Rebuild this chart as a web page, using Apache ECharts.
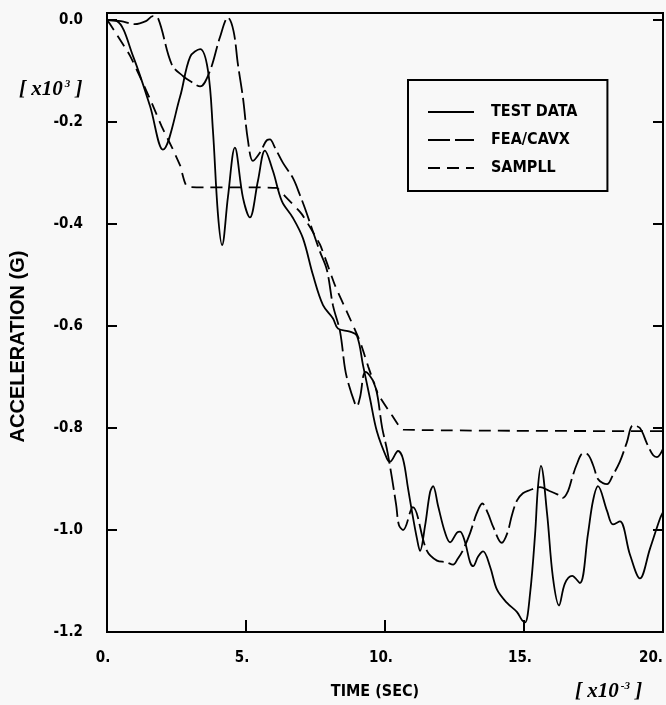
<!DOCTYPE html>
<html>
<head>
<meta charset="utf-8">
<script src="https://cdn.jsdelivr.net/npm/echarts@6/dist/echarts.min.js"></script>
<style>
html,body{margin:0;padding:0;background:#f8f8f8;}
#c{width:666px;height:705px;}
</style>
</head>
<body>
<div id="c"></div>
<script>
// ---- data (time in 1e-3 s, acceleration in 1e3 G) ----
const seriesNames = ['TEST DATA', 'FEA/CAVX', 'SAMPLL'];
const xTicks = [0, 5, 10, 15, 20];
const yTicks = [-1.2, -1.0, -0.8, -0.6, -0.4, -0.2, 0.0];

const testT = [0,0.36,0.94,1.55,2.01,2.63,2.99,3.35,3.63,3.81,3.99,4.14,4.35,4.60,4.89,5.14,5.43,5.68,5.97,6.29,6.69,7.05,7.41,7.77,8.13,8.31,8.74,8.99,9.21,9.46,9.71,10.07,10.18,10.47,10.65,10.83,10.97,11.15,11.26,11.44,11.62,11.73,11.91,12.16,12.34,12.59,12.70,12.88,13.06,13.17,13.35,13.53,13.78,14.03,14.39,14.75,14.93,15.04,15.22,15.40,15.50,15.61,15.83,16.04,16.26,16.47,16.73,17.01,17.30,17.48,17.66,17.99,18.20,18.45,18.81,19.17,19.53,19.89,20.0];
const testV = [0,-0.002,-0.071,-0.169,-0.254,-0.150,-0.072,-0.057,-0.098,-0.216,-0.380,-0.441,-0.347,-0.250,-0.348,-0.387,-0.315,-0.256,-0.296,-0.355,-0.388,-0.428,-0.500,-0.559,-0.585,-0.605,-0.611,-0.619,-0.677,-0.742,-0.807,-0.860,-0.866,-0.845,-0.861,-0.919,-0.964,-1.017,-1.041,-0.992,-0.926,-0.914,-0.953,-1.005,-1.024,-1.005,-1.003,-1.024,-1.063,-1.071,-1.052,-1.042,-1.072,-1.117,-1.143,-1.161,-1.177,-1.181,-1.124,-1.007,-0.917,-0.874,-0.968,-1.093,-1.148,-1.105,-1.090,-1.104,-1.008,-0.943,-0.914,-0.963,-0.989,-0.983,-1.048,-1.095,-1.037,-0.978,-0.965];

const feaT = [0,0.5,1.0,1.4,1.65,1.85,2.33,2.74,3.0,3.35,3.7,4.06,4.35,4.55,4.71,4.89,5.07,5.25,5.5,5.76,5.86,6.04,6.33,6.69,6.94,7.12,7.41,7.66,7.91,8.13,8.38,8.56,8.67,8.92,8.99,9.1,9.3,9.64,9.9,10.1,10.4,10.5,10.65,11.0,11.5,11.87,12.2,12.45,12.6,12.8,13.06,13.3,13.5,13.7,13.9,14.2,14.4,14.57,14.75,14.96,15.2,15.58,15.9,16.2,16.4,16.58,16.73,16.9,17.12,17.3,17.48,17.66,17.84,17.99,18.2,18.45,18.7,18.92,19.17,19.42,19.64,19.78,20.0];
const feaV = [0,-0.002,-0.008,-0.002,0.008,0.002,-0.087,-0.11,-0.12,-0.13,-0.10,-0.034,0.005,-0.021,-0.087,-0.152,-0.236,-0.276,-0.26,-0.235,-0.234,-0.25,-0.28,-0.31,-0.343,-0.369,-0.415,-0.454,-0.49,-0.56,-0.61,-0.683,-0.71,-0.752,-0.757,-0.74,-0.69,-0.716,-0.80,-0.85,-0.95,-0.99,-1.0,-0.955,-1.04,-1.06,-1.063,-1.068,-1.058,-1.04,-1.006,-0.967,-0.948,-0.967,-0.995,-1.025,-1.006,-0.97,-0.942,-0.928,-0.922,-0.916,-0.923,-0.93,-0.937,-0.924,-0.898,-0.871,-0.85,-0.852,-0.872,-0.90,-0.908,-0.91,-0.892,-0.866,-0.828,-0.795,-0.80,-0.83,-0.853,-0.857,-0.841];

const sampT = [0,0.1,0.83,1.55,1.98,2.34,2.63,2.9,6.1,6.4,7.0,7.66,8.2,8.63,9.1,9.4,9.75,10.25,10.65,20.0];
const sampV = [0,-0.007,-0.07,-0.155,-0.21,-0.25,-0.285,-0.327,-0.329,-0.345,-0.38,-0.44,-0.52,-0.572,-0.63,-0.68,-0.733,-0.775,-0.803,-0.806];

const lineTypes = ['solid', [22, 5], [12, 7]];

const zip = (a, b) => a.map((t, i) => [t, b[i]]);

const NARROW = "'DejaVu Sans Condensed','Liberation Sans Narrow',sans-serif";
const chart = echarts.init(document.getElementById('c'), null, {renderer: 'canvas'});

const lineCommon = {type: 'line', showSymbol: false, symbol: 'none', clip: true, z: 3};
const supRich = {
  a: {fontFamily: "'Liberation Serif',serif", fontStyle: 'italic', fontWeight: 'bold', fontSize: 21, color: '#000'},
  s: {fontFamily: "'Liberation Serif',serif", fontStyle: 'italic', fontWeight: 'bold', fontSize: 11, color: '#000', verticalAlign: 'top', padding: [0, 0, 10, 2]}
};

chart.setOption({
  backgroundColor: '#f8f8f8',
  animation: false,
  grid: {left: 107, right: 3, top: 13, bottom: 72, containLabel: false,
    show: true, borderColor: '#000', borderWidth: 2, backgroundColor: 'transparent'},
  title: [
    {text: '{a|[ x10}{s|3}{a| ]}', left: 14, top: 74, textStyle: {rich: supRich}},
    {text: '{a|[ x10}{s|-3}{a| ]}', left: 570, top: 676, textStyle: {rich: supRich}}
  ],
  legend: {
    data: seriesNames.map((n, i) => ({
      name: n,
      itemStyle: {color: 'rgba(0,0,0,0)', borderColor: 'rgba(0,0,0,0)', borderWidth: 0, opacity: 0},
      lineStyle: {color: '#000', width: 2, type: lineTypes[i], opacity: 1}
    })),
    orient: 'vertical', left: 408, top: 80,
    padding: [24, 30, 15, 19], itemGap: 12,
    itemWidth: 46, itemHeight: 14,
    borderColor: '#000', borderWidth: 2, borderRadius: 0,
    backgroundColor: '#f8f8f8',
    textStyle: {fontFamily: NARROW, fontWeight: 'bold', fontSize: 16, color: '#000', padding: [0, 0, 0, 12]}
  },
  xAxis: {
    type: 'value', min: xTicks[0], max: xTicks[xTicks.length - 1], interval: 5,
    name: 'TIME (SEC)', nameLocation: 'middle', nameGap: 52,
    nameTextStyle: {fontFamily: NARROW, fontWeight: 'bold', fontSize: 16, color: '#000', padding: [0, 20, 0, 0]},
    axisLine: {onZero: false, lineStyle: {color: '#000', width: 2}},
    axisTick: {inside: true, length: 12, lineStyle: {color: '#000', width: 2}},
    splitLine: {show: false},
    axisLabel: {margin: 19, alignMaxLabel: 'right', fontFamily: NARROW, fontWeight: 'bold', fontSize: 15, color: '#000',
      formatter: v => v === 20 ? '{e|20.}' : '{n|' + v + '.}',
      rich: {n: {fontFamily: NARROW, fontWeight: 'bold', fontSize: 15, color: '#000', padding: [0, 8, 0, 0]},
             e: {fontFamily: NARROW, fontWeight: 'bold', fontSize: 15, color: '#000'}}}
  },
  yAxis: [{
    type: 'value', min: -1.2, max: 0.014, interval: 0.2,
    name: 'ACCELERATION (G)', nameLocation: 'middle', nameGap: 79, nameRotate: 90,
    nameTextStyle: {fontFamily: "'Liberation Sans',Arial,sans-serif", fontWeight: 'bold', fontSize: 20, color: '#000', padding: [0, 48, 0, 0]},
    axisLine: {show: true, onZero: false, lineStyle: {color: '#000', width: 2}},
    axisTick: {inside: true, length: 10, lineStyle: {color: '#000', width: 2}},
    splitLine: {show: false},
    axisLabel: {margin: 24, showMaxLabel: false, fontFamily: NARROW, fontWeight: 'bold', fontSize: 15, color: '#000',
      formatter: v => Math.abs(v) < 1e-9 ? '0.0' : v.toFixed(1)}
  }, {
    type: 'value', position: 'right', min: -1.2, max: 0.014, interval: 0.2,
    axisLine: {show: true, onZero: false, lineStyle: {color: '#000', width: 2}},
    axisTick: {show: true, inside: true, length: 10, lineStyle: {color: '#000', width: 2}},
    axisLabel: {show: false}, splitLine: {show: false}
  }],
  series: seriesNames.map((n, i) => Object.assign({}, lineCommon, {
    name: n,
    data: [zip(testT, testV), zip(feaT, feaV), zip(sampT, sampV)][i],
    smooth: [0.35, 0.35, 0.15][i],
    lineStyle: {color: '#000', width: 1.8, type: lineTypes[i]},
    itemStyle: {color: '#000'}
  }))
});
</script>
</body>
</html>
